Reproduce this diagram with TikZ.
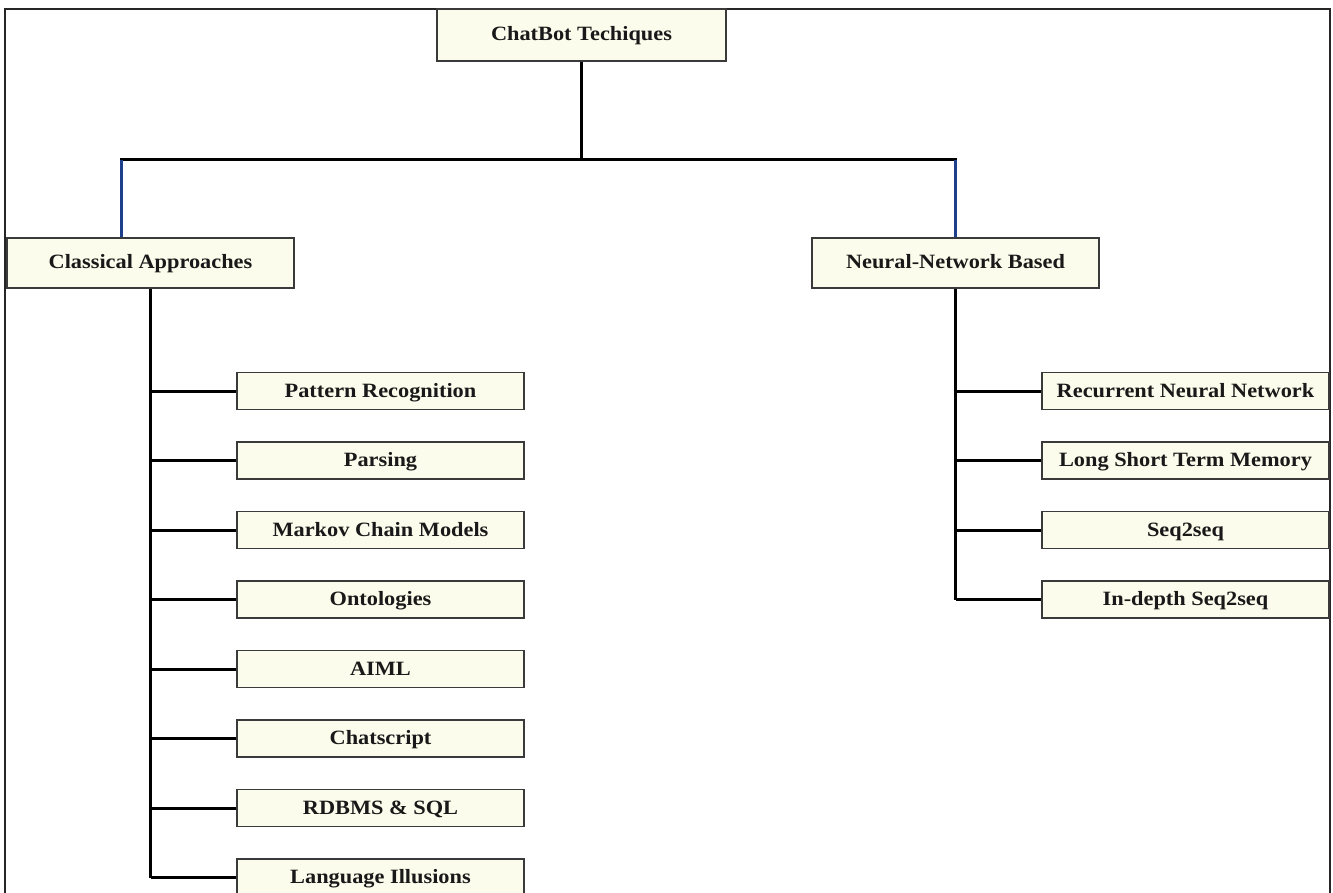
\documentclass[tikz,border=0pt]{standalone}
\usepackage{fontspec}
\setmainfont{Liberation Serif}[FakeStretch=1.1]
\definecolor{boxfill}{HTML}{FBFCEB}
\definecolor{boxline}{HTML}{3A3A3A}
\definecolor{linkblue}{HTML}{1E3F8C}
\tikzset{
  tbox/.style={draw=boxline, line width=1.4pt, fill=boxfill, inner sep=0pt,
    text height=17pt, text depth=5pt,
    font=\fontsize{20.3}{24}\selectfont\bfseries, text=black!90},
  bigbox/.style={tbox, minimum width=287pt, minimum height=50pt},
  kidbox/.style={tbox, minimum width=287pt, minimum height=37pt},
  link/.style={draw=black, line width=3pt},
  bluelink/.style={draw=linkblue, line width=3pt},
  frame/.style={draw=black!85, line width=2.2pt}
}
\begin{document}
\begin{tikzpicture}[x=1pt,y=-1pt]
\useasboundingbox (0,0) rectangle (1333,893);
\draw[frame] (5,900) -- (5,9) -- (1330,9) -- (1330,900);
% main nodes
\node[bigbox, minimum width=289pt, minimum height=52pt] (top) at (581.5,35) {ChatBot Techiques};
\node[bigbox] (cls) at (150.5,263) {Classical Approaches};
\node[bigbox] (nn) at (955.5,263) {Neural-Network Based};
% left children
\foreach \n/\t [count=\i from 0] in {pr/Pattern Recognition, pa/Parsing, mc/Markov Chain Models, on/Ontologies, ai/AIML, cs/Chatscript, rd/RDBMS \& SQL, li/Language Illusions}{
  \node[kidbox] (\n) at (380.5,{391+69.5*\i}) {\t};
}
% right children
\foreach \n/\t [count=\i from 0] in {rnn/Recurrent Neural Network, lstm/Long Short Term Memory, ss/Seq2seq, ids/In-depth Seq2seq}{
  \node[kidbox] (\n) at (1185.5,{391+69.5*\i}) {\t};
}
% connectors
\coordinate (hub) at (top.south |- 0,160);
\coordinate (lj) at (121,160);
\coordinate (rj) at (nn.north |- 0,160);
\draw[link] (top.south) -- (hub);
\draw[link, line cap=rect] (lj) -- (rj);
\draw[bluelink] (lj) -- (lj |- cls.north);
\draw[bluelink] (rj) -- (nn.north);
\draw[link] (cls.south) -- (cls.south |- li.west);
\foreach \n in {pr,pa,mc,on,ai,cs,rd,li}{
  \draw[link] (cls.south |- \n.west) -- (\n.west);
}
\draw[link] (nn.south) -- (nn.south |- ids.west);
\foreach \n in {rnn,lstm,ss,ids}{
  \draw[link] (nn.south |- \n.west) -- (\n.west);
}
\end{tikzpicture}
\end{document}
